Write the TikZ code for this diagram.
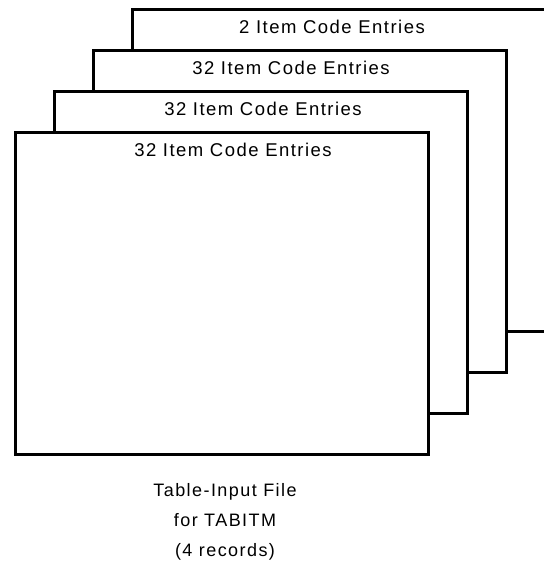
\documentclass[tikz,border=0pt]{standalone}
\usepackage{fontspec}
\newfontfamily\cardfont[LetterSpace=8]{Liberation Sans}
\usetikzlibrary{positioning}

\tikzset{
  card/.style={draw, line width=2.6pt, fill=white, anchor=north west,
    minimum width=413pt, minimum height=322pt, inner sep=0pt},
  cardtitle/.style={font=\cardfont\fontsize{18.5}{22}\selectfont, inner sep=0pt},
  caption/.style={font=\cardfont\fontsize{18}{30}\selectfont, align=center, inner sep=0pt}
}

\begin{document}
\begin{tikzpicture}[x=1pt, y=-1pt]
  \useasboundingbox (0,0) rectangle (543,564);

  % Record 4 (back, partly off the page)
  \node[card] (rec4) at (131,8) {};
  \node[cardtitle, below=19pt of rec4.north west, anchor=center, xshift=201pt] (t4) {2 Item Code Entries};

  % Record 3
  \node[card] (rec3) at (92,49) {};
  \node[cardtitle, below=19pt of rec3.north west, anchor=center, xshift=199pt] (t3) {32 Item Code Entries};

  % Record 2
  \node[card] (rec2) at (53,90) {};
  \node[cardtitle, below=19pt of rec2.north west, anchor=center, xshift=210pt] (t2) {32 Item Code Entries};

  % Record 1 (front)
  \node[card] (rec1) at (14,131) {};
  \node[cardtitle, below=19pt of rec1.north west, anchor=center, xshift=219pt] (t1) {32 Item Code Entries};

  % Caption under the stack
  \node[caption, anchor=north] (cap) at (225,483) {Table-Input File\\for TABITM\\(4 records)};
\end{tikzpicture}
\end{document}
